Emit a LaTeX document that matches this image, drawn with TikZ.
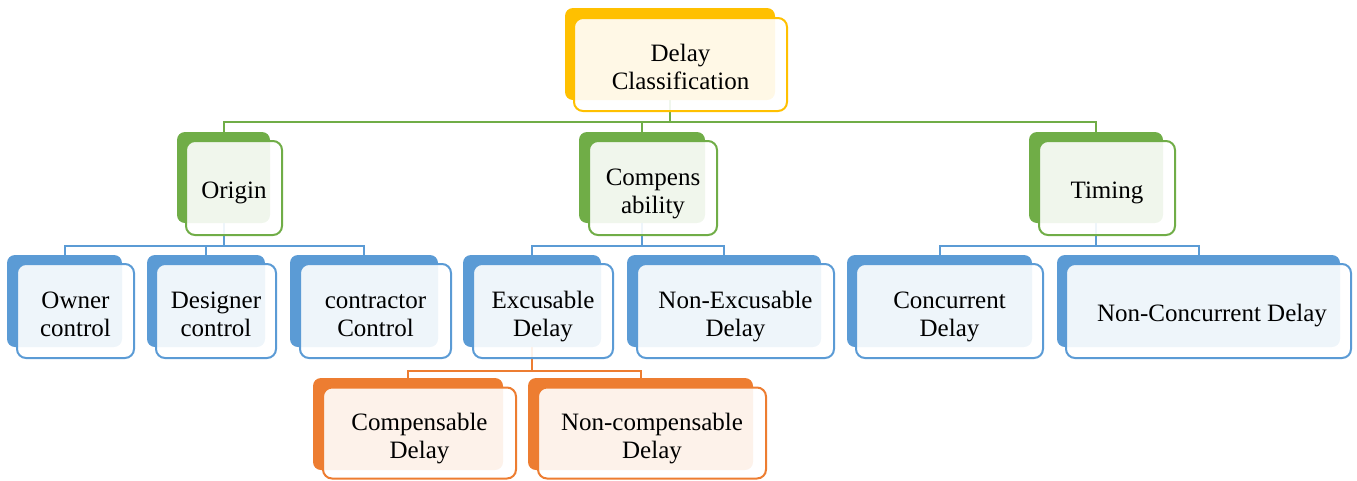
\documentclass[tikz,border=0pt]{standalone}
\usepackage{fontspec}
\setmainfont{Liberation Serif}
\definecolor{cgold}{HTML}{FFC000}
\definecolor{cgreen}{HTML}{70AD47}
\definecolor{cblue}{HTML}{5B9BD5}
\definecolor{corange}{HTML}{ED7D31}
\tikzset{
  dk/.style={fill=#1, draw=none, rounded corners=8pt, inner sep=0pt},
  fr/.style={draw=#1, line width=2pt, fill=white, fill opacity=0.9, rounded corners=9pt, inner sep=0pt},
  txt/.style={font=\fontsize{25}{28}\selectfont, align=center, anchor=base, inner sep=0pt, text=black},
  conn/.style={draw=#1, line width=2pt},
}
\begin{document}
\begin{tikzpicture}[x=1pt,y=-1pt]
\useasboundingbox (0,0) rectangle (1357,480);
\coordinate (gbus) at (0,122);
\coordinate (bbus) at (0,246);
\coordinate (obus) at (0,371);

% dark boxes (anchors for connectors)
\node[dk=cgold, minimum width=210, minimum height=92] (top) at (670,54) {};
\node[dk=cgreen, minimum width=93, minimum height=91] (org) at (223.5,177.5) {};
\node[dk=cgreen, minimum width=126, minimum height=91] (cmp) at (642,177.5) {};
\node[dk=cgreen, minimum width=134, minimum height=91] (tim) at (1096,177.5) {};
\node[dk=cblue, minimum width=115, minimum height=92] (own) at (64.5,301) {};
\node[dk=cblue, minimum width=118, minimum height=92] (des) at (206,301) {};
\node[dk=cblue, minimum width=148, minimum height=92] (con) at (364,301) {};
\node[dk=cblue, minimum width=138, minimum height=92] (exc) at (532,301) {};
\node[dk=cblue, minimum width=194, minimum height=92] (nex) at (724,301) {};
\node[dk=cblue, minimum width=185, minimum height=92] (ccd) at (939.5,301) {};
\node[dk=cblue, minimum width=283, minimum height=92] (ncc) at (1198.5,301) {};
\node[dk=corange, minimum width=190, minimum height=92] (cpd) at (408,424) {};
\node[dk=corange, minimum width=225, minimum height=92] (ncp) at (640.5,424) {};

% connectors (behind the front boxes)
\draw[conn=cgreen] (top.south) -- (top.south |- gbus) -| (org.north);
\draw[conn=cgreen] (top.south |- gbus) -| (cmp.north);
\draw[conn=cgreen] (top.south |- gbus) -| (tim.north);
\draw[conn=cblue] (org.south) -- (org.south |- bbus) -| (own.north);
\draw[conn=cblue] (org.south |- bbus) -| (des.north);
\draw[conn=cblue] (org.south |- bbus) -| (con.north);
\draw[conn=cblue] (cmp.south) -- (cmp.south |- bbus) -| (exc.north);
\draw[conn=cblue] (cmp.south |- bbus) -| (nex.north);
\draw[conn=cblue] (tim.south) -- (tim.south |- bbus) -| (ccd.north);
\draw[conn=cblue] (tim.south |- bbus) -| (ncc.north);
\draw[conn=corange] (exc.south) -- (exc.south |- obus) -| (cpd.north);
\draw[conn=corange] (exc.south |- obus) -| (ncp.north);

% front boxes
\node[fr=cgold, minimum width=213, minimum height=93] (topf) at (680.5,64.5) {};
\node[fr=cgreen, minimum width=96, minimum height=94] (orgf) at (234,188) {};
\node[fr=cgreen, minimum width=128, minimum height=94] (cmpf) at (653,188) {};
\node[fr=cgreen, minimum width=136, minimum height=94] (timf) at (1107,188) {};
\node[fr=cblue, minimum width=117, minimum height=94] (ownf) at (75.5,311) {};
\node[fr=cblue, minimum width=120, minimum height=94] (desf) at (216,311) {};
\node[fr=cblue, minimum width=151, minimum height=94] (conf) at (375.5,311) {};
\node[fr=cblue, minimum width=140, minimum height=94] (excf) at (543,311) {};
\node[fr=cblue, minimum width=197, minimum height=94] (nexf) at (735.5,311) {};
\node[fr=cblue, minimum width=187, minimum height=94] (ccdf) at (949.5,311) {};
\node[fr=cblue, minimum width=285, minimum height=94] (nccf) at (1208.5,311) {};
\node[fr=corange, minimum width=193, minimum height=91] (cpdf) at (419.5,433) {};
\node[fr=corange, minimum width=228, minimum height=91] (ncpf) at (652,433) {};

% texts (base anchor = baseline of the last line)
\node[txt] (topt) at (680.5,89.5) {Delay\\Classification};
\node[txt] (orgt) at (234,198) {Origin};
\node[txt] (cmpt) at (653,213) {Compens\\ability};
\node[txt] (timt) at (1107,198) {Timing};
\node[txt] (ownt) at (75.5,336) {Owner\\control};
\node[txt] (dest) at (216,336) {Designer\\control};
\node[txt] (cont) at (375.5,336) {contractor\\Control};
\node[txt] (exct) at (543,336) {Excusable\\Delay};
\node[txt] (next) at (735.5,336) {Non-Excusable\\Delay};
\node[txt] (ccdt) at (949.5,336) {Concurrent\\Delay};
\node[txt] (ncct) at (1212,321) {Non-Concurrent Delay};
\node[txt] (cpdt) at (419.5,458) {Compensable\\Delay};
\node[txt] (ncpt) at (652,458) {Non-compensable\\Delay};
\end{tikzpicture}
\end{document}
